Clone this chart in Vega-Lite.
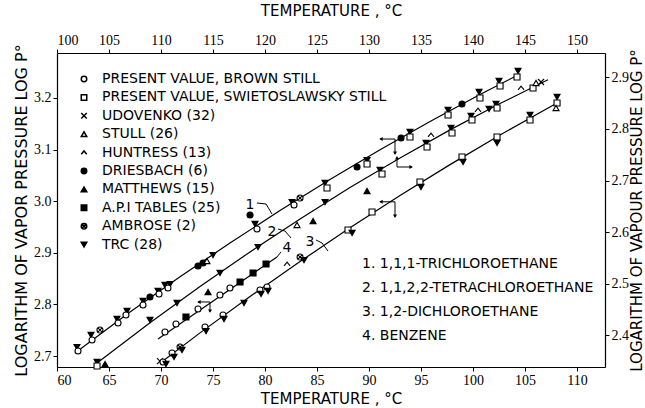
{
  "$schema": "https://vega.github.io/schema/vega-lite/v6.json",
  "width": 548,
  "height": 314,
  "autosize": {"type": "none"},
  "padding": {"left": 57, "top": 53, "right": 40, "bottom": 41},
  "background": "white",
  "config": {
    "view": {"stroke": null},
    "axis": {
      "domainColor": "black", "domainWidth": 1.2, "tickColor": "black", "tickWidth": 1,
      "labelColor": "black", "titleColor": "black", "grid": false,
      "labelFont": "Liberation Sans Narrow", "labelFontSize": 14,
      "titleFont": "DejaVu Sans", "titleFontSize": 15, "titleFontWeight": "normal",
      "tickSize": 4, "labelPadding": 2
    }
  },
  "datasets": {
    "lines": [
      {"compound": "1", "T": 61.73, "logP": 2.706}, {"compound": "1", "T": 67.02, "logP": 2.7853},
      {"compound": "1", "T": 71.83, "logP": 2.8535}, {"compound": "1", "T": 76.63, "logP": 2.919},
      {"compound": "1", "T": 81.44, "logP": 2.9818}, {"compound": "1", "T": 86.25, "logP": 3.042},
      {"compound": "1", "T": 91.06, "logP": 3.0996}, {"compound": "1", "T": 95.87, "logP": 3.1545},
      {"compound": "1", "T": 100.67, "logP": 3.2066}, {"compound": "1", "T": 104.52, "logP": 3.2465},
      {"compound": "3", "T": 69.9, "logP": 2.686}, {"compound": "3", "T": 73.75, "logP": 2.7448},
      {"compound": "3", "T": 78.56, "logP": 2.8153}, {"compound": "3", "T": 83.37, "logP": 2.8831},
      {"compound": "3", "T": 88.17, "logP": 2.9484}, {"compound": "3", "T": 92.98, "logP": 3.011},
      {"compound": "3", "T": 97.79, "logP": 3.0709}, {"compound": "3", "T": 102.6, "logP": 3.1283},
      {"compound": "3", "T": 108.08, "logP": 3.1903},
      {"compound": "4", "T": 69.71, "logP": 2.7329}, {"compound": "4", "T": 81.15, "logP": 2.8919}
    ],
    "line2": [
      {"T": 103.85, "logP": 2.3466}, {"T": 108.94, "logP": 2.4245}, {"T": 113.75, "logP": 2.4947},
      {"T": 118.56, "logP": 2.5617}, {"T": 123.37, "logP": 2.6257}, {"T": 128.17, "logP": 2.6866},
      {"T": 132.98, "logP": 2.7439}, {"T": 137.79, "logP": 2.7982}, {"T": 142.6, "logP": 2.8493},
      {"T": 147.21, "logP": 2.8955}
    ],
    "pts": [
      {"T": 61.92, "logP": 2.7174, "src": "TRC (28)"},
      {"T": 62.02, "logP": 2.7097, "src": "PRESENT VALUE, BROWN STILL"},
      {"T": 63.27, "logP": 2.7407, "src": "TRC (28)"},
      {"T": 63.37, "logP": 2.731, "src": "PRESENT VALUE, BROWN STILL"},
      {"T": 64.13, "logP": 2.7504, "src": "AMBROSE (2)"},
      {"T": 65.77, "logP": 2.7717, "src": "TRC (28)"},
      {"T": 65.87, "logP": 2.764, "src": "PRESENT VALUE, BROWN STILL"},
      {"T": 66.73, "logP": 2.7872, "src": "TRC (28)"},
      {"T": 66.63, "logP": 2.7795, "src": "PRESENT VALUE, BROWN STILL"},
      {"T": 68.27, "logP": 2.8066, "src": "TRC (28)"},
      {"T": 68.27, "logP": 2.7988, "src": "PRESENT VALUE, BROWN STILL"},
      {"T": 68.94, "logP": 2.8143, "src": "DRIESBACH (6)"},
      {"T": 69.71, "logP": 2.826, "src": "TRC (28)"},
      {"T": 69.81, "logP": 2.8202, "src": "PRESENT VALUE, BROWN STILL"},
      {"T": 70.38, "logP": 2.8376, "src": "TRC (28)"},
      {"T": 70.87, "logP": 2.8395, "src": "TRC (28)"},
      {"T": 70.67, "logP": 2.8318, "src": "PRESENT VALUE, BROWN STILL"},
      {"T": 73.56, "logP": 2.8744, "src": "DRIESBACH (6)"},
      {"T": 74.04, "logP": 2.8802, "src": "DRIESBACH (6)"},
      {"T": 74.42, "logP": 2.8841, "src": "STULL (26)"},
      {"T": 75.0, "logP": 2.8957, "src": "TRC (28)"},
      {"T": 78.56, "logP": 2.9733, "src": "DRIESBACH (6)"},
      {"T": 79.04, "logP": 2.9558, "src": "TRC (28)"},
      {"T": 79.23, "logP": 2.9461, "src": "PRESENT VALUE, BROWN STILL"},
      {"T": 82.6, "logP": 2.9984, "src": "TRC (28)"},
      {"T": 82.79, "logP": 2.9926, "src": "PRESENT VALUE, BROWN STILL"},
      {"T": 83.37, "logP": 3.0062, "src": "AMBROSE (2)"},
      {"T": 85.77, "logP": 3.0353, "src": "TRC (28)"},
      {"T": 85.96, "logP": 3.0256, "src": "PRESENT VALUE, SWIETOSLAWSKY STILL"},
      {"T": 88.85, "logP": 3.0663, "src": "DRIESBACH (6)"},
      {"T": 89.81, "logP": 3.0798, "src": "TRC (28)"},
      {"T": 89.81, "logP": 3.0721, "src": "PRESENT VALUE, SWIETOSLAWSKY STILL"},
      {"T": 93.08, "logP": 3.1225, "src": "DRIESBACH (6)"},
      {"T": 93.94, "logP": 3.1341, "src": "TRC (28)"},
      {"T": 93.94, "logP": 3.1244, "src": "PRESENT VALUE, SWIETOSLAWSKY STILL"},
      {"T": 97.6, "logP": 3.1767, "src": "TRC (28)"},
      {"T": 97.6, "logP": 3.1671, "src": "PRESENT VALUE, SWIETOSLAWSKY STILL"},
      {"T": 98.94, "logP": 3.1884, "src": "DRIESBACH (6)"},
      {"T": 100.58, "logP": 3.2116, "src": "TRC (28)"},
      {"T": 100.67, "logP": 3.2, "src": "PRESENT VALUE, SWIETOSLAWSKY STILL"},
      {"T": 102.5, "logP": 3.2329, "src": "TRC (28)"},
      {"T": 102.6, "logP": 3.2233, "src": "PRESENT VALUE, SWIETOSLAWSKY STILL"},
      {"T": 104.33, "logP": 3.2523, "src": "TRC (28)"},
      {"T": 104.23, "logP": 3.2407, "src": "PRESENT VALUE, SWIETOSLAWSKY STILL"},
      {"T": 70.38, "logP": 2.7465, "src": "PRESENT VALUE, BROWN STILL"},
      {"T": 71.44, "logP": 2.762, "src": "PRESENT VALUE, BROWN STILL"},
      {"T": 72.4, "logP": 2.7756, "src": "A.P.I TABLES (25)"},
      {"T": 73.56, "logP": 2.7911, "src": "PRESENT VALUE, BROWN STILL"},
      {"T": 75.67, "logP": 2.8182, "src": "PRESENT VALUE, BROWN STILL"},
      {"T": 76.63, "logP": 2.8318, "src": "PRESENT VALUE, BROWN STILL"},
      {"T": 77.6, "logP": 2.8434, "src": "A.P.I TABLES (25)"},
      {"T": 78.85, "logP": 2.8609, "src": "A.P.I TABLES (25)"},
      {"T": 80.1, "logP": 2.8783, "src": "A.P.I TABLES (25)"},
      {"T": 69.9, "logP": 2.6903, "src": "UDOVENKO (32)"},
      {"T": 70.19, "logP": 2.6884, "src": "PRESENT VALUE, BROWN STILL"},
      {"T": 70.48, "logP": 2.6845, "src": "TRC (28)"},
      {"T": 71.06, "logP": 2.7058, "src": "PRESENT VALUE, BROWN STILL"},
      {"T": 71.25, "logP": 2.6981, "src": "TRC (28)"},
      {"T": 71.83, "logP": 2.7174, "src": "AMBROSE (2)"},
      {"T": 72.02, "logP": 2.7116, "src": "TRC (28)"},
      {"T": 74.23, "logP": 2.7562, "src": "PRESENT VALUE, BROWN STILL"},
      {"T": 74.33, "logP": 2.7484, "src": "TRC (28)"},
      {"T": 75.96, "logP": 2.7795, "src": "PRESENT VALUE, BROWN STILL"},
      {"T": 76.06, "logP": 2.7717, "src": "TRC (28)"},
      {"T": 77.98, "logP": 2.8027, "src": "TRC (28)"},
      {"T": 79.52, "logP": 2.8279, "src": "PRESENT VALUE, BROWN STILL"},
      {"T": 79.62, "logP": 2.8202, "src": "TRC (28)"},
      {"T": 80.19, "logP": 2.8337, "src": "PRESENT VALUE, BROWN STILL"},
      {"T": 80.29, "logP": 2.826, "src": "TRC (28)"},
      {"T": 82.12, "logP": 2.8783, "src": "HUNTRESS (13)"},
      {"T": 83.37, "logP": 2.8919, "src": "AMBROSE (2)"},
      {"T": 83.75, "logP": 2.886, "src": "TRC (28)"},
      {"T": 87.98, "logP": 2.9442, "src": "PRESENT VALUE, SWIETOSLAWSKY STILL"},
      {"T": 88.37, "logP": 2.9384, "src": "TRC (28)"},
      {"T": 90.29, "logP": 2.9791, "src": "PRESENT VALUE, SWIETOSLAWSKY STILL"},
      {"T": 94.9, "logP": 3.0372, "src": "PRESENT VALUE, SWIETOSLAWSKY STILL"},
      {"T": 95.0, "logP": 3.0275, "src": "TRC (28)"},
      {"T": 98.94, "logP": 3.0857, "src": "PRESENT VALUE, SWIETOSLAWSKY STILL"},
      {"T": 99.04, "logP": 3.076, "src": "TRC (28)"},
      {"T": 102.31, "logP": 3.1244, "src": "PRESENT VALUE, SWIETOSLAWSKY STILL"},
      {"T": 102.31, "logP": 3.1128, "src": "TRC (28)"},
      {"T": 105.48, "logP": 3.1671, "src": "TRC (28)"},
      {"T": 105.48, "logP": 3.1574, "src": "PRESENT VALUE, SWIETOSLAWSKY STILL"},
      {"T": 108.08, "logP": 3.2019, "src": "TRC (28)"},
      {"T": 108.08, "logP": 3.1903, "src": "PRESENT VALUE, SWIETOSLAWSKY STILL"},
      {"T": 107.98, "logP": 3.1806, "src": "STULL (26)"}
    ],
    "pts2": [
      {"T": 103.85, "logP": 2.3484, "src": "TRC (28)"},
      {"T": 103.85, "logP": 2.3406, "src": "PRESENT VALUE, SWIETOSLAWSKY STILL"},
      {"T": 104.62, "logP": 2.3445, "src": "MATTHEWS (15)"},
      {"T": 108.94, "logP": 2.4298, "src": "TRC (28)"},
      {"T": 111.54, "logP": 2.4627, "src": "TRC (28)"},
      {"T": 114.52, "logP": 2.484, "src": "MATTHEWS (15)"},
      {"T": 115.67, "logP": 2.5209, "src": "TRC (28)"},
      {"T": 119.33, "logP": 2.5712, "src": "TRC (28)"},
      {"T": 123.08, "logP": 2.6139, "src": "STULL (26)"},
      {"T": 124.62, "logP": 2.6216, "src": "MATTHEWS (15)"},
      {"T": 125.77, "logP": 2.6584, "src": "TRC (28)"},
      {"T": 129.81, "logP": 2.6798, "src": "MATTHEWS (15)"},
      {"T": 131.06, "logP": 2.7205, "src": "TRC (28)"},
      {"T": 131.25, "logP": 2.7127, "src": "PRESENT VALUE, SWIETOSLAWSKY STILL"},
      {"T": 135.48, "logP": 2.7728, "src": "TRC (28)"},
      {"T": 135.58, "logP": 2.765, "src": "PRESENT VALUE, SWIETOSLAWSKY STILL"},
      {"T": 135.96, "logP": 2.7883, "src": "HUNTRESS (13)"},
      {"T": 137.88, "logP": 2.8019, "src": "TRC (28)"},
      {"T": 137.98, "logP": 2.7922, "src": "PRESENT VALUE, SWIETOSLAWSKY STILL"},
      {"T": 139.81, "logP": 2.8251, "src": "TRC (28)"},
      {"T": 139.9, "logP": 2.8174, "src": "PRESENT VALUE, SWIETOSLAWSKY STILL"},
      {"T": 140.48, "logP": 2.8367, "src": "HUNTRESS (13)"},
      {"T": 141.54, "logP": 2.8387, "src": "TRC (28)"},
      {"T": 142.21, "logP": 2.8484, "src": "TRC (28)"},
      {"T": 142.31, "logP": 2.8406, "src": "PRESENT VALUE, SWIETOSLAWSKY STILL"},
      {"T": 144.62, "logP": 2.8794, "src": "HUNTRESS (13)"},
      {"T": 145.77, "logP": 2.8794, "src": "PRESENT VALUE, SWIETOSLAWSKY STILL"},
      {"T": 146.06, "logP": 2.8891, "src": "STULL (26)"},
      {"T": 146.54, "logP": 2.891, "src": "UDOVENKO (32)"}
    ],
    "names": [
      {"T": 89.33, "logP": 2.8783, "text": "1.  1,1,1-TRICHLOROETHANE"},
      {"T": 89.33, "logP": 2.8318, "text": "2.  1,1,2,2-TETRACHLOROETHANE"},
      {"T": 89.33, "logP": 2.7853, "text": "3.  1,2-DICHLOROETHANE"},
      {"T": 89.33, "logP": 2.7388, "text": "4.  BENZENE"}
    ],
    "nums": [
      {"T": 78.56, "logP": 2.9926, "text": "1"},
      {"T": 80.67, "logP": 2.9403, "text": "2"},
      {"T": 82.12, "logP": 2.9093, "text": "4"},
      {"T": 84.33, "logP": 2.9209, "text": "3"}
    ],
    "leaders": [
      {"id": "l1", "ord": 0, "T": 79.23, "logP": 2.9965}, {"id": "l1", "ord": 1, "T": 80.1, "logP": 2.9946}, {"id": "l1", "ord": 2, "T": 80.67, "logP": 2.9752},
      {"id": "l2", "ord": 0, "T": 81.25, "logP": 2.9461}, {"id": "l2", "ord": 1, "T": 81.92, "logP": 2.9422}, {"id": "l2", "ord": 2, "T": 82.5, "logP": 2.9287},
      {"id": "l3", "ord": 0, "T": 84.9, "logP": 2.9248}, {"id": "l3", "ord": 1, "T": 85.48, "logP": 2.919}, {"id": "l3", "ord": 2, "T": 86.06, "logP": 2.9035},
      {"id": "l4", "ord": 0, "T": 81.54, "logP": 2.9016}, {"id": "l4", "ord": 1, "T": 81.15, "logP": 2.8919}
    ],
    "arrows": [
      {"id": "a1h", "ord": 0, "T": 91.06, "logP": 3.1205}, {"id": "a1h", "ord": 1, "T": 92.5, "logP": 3.1205},
      {"id": "a1v", "ord": 0, "T": 92.5, "logP": 3.1205}, {"id": "a1v", "ord": 1, "T": 92.5, "logP": 3.0915},
      {"id": "a2v", "ord": 0, "T": 92.69, "logP": 3.0857}, {"id": "a2v", "ord": 1, "T": 92.69, "logP": 3.0663},
      {"id": "a2h", "ord": 0, "T": 92.69, "logP": 3.0663}, {"id": "a2h", "ord": 1, "T": 94.13, "logP": 3.0663},
      {"id": "a3h", "ord": 0, "T": 91.06, "logP": 2.9988}, {"id": "a3h", "ord": 1, "T": 92.5, "logP": 2.9988},
      {"id": "a3v", "ord": 0, "T": 92.5, "logP": 2.9988}, {"id": "a3v", "ord": 1, "T": 92.5, "logP": 2.9695},
      {"id": "a4h", "ord": 0, "T": 73.56, "logP": 2.8047}, {"id": "a4h", "ord": 1, "T": 74.71, "logP": 2.8047},
      {"id": "a4v", "ord": 0, "T": 74.71, "logP": 2.8047}, {"id": "a4v", "ord": 1, "T": 74.71, "logP": 2.7853}
    ],
    "heads": [
      {"dir": "left", "T": 91.15, "logP": 3.1205},
      {"dir": "down", "T": 92.5, "logP": 3.093},
      {"dir": "up", "T": 92.69, "logP": 3.084},
      {"dir": "right", "T": 94.05, "logP": 3.0663},
      {"dir": "left", "T": 91.15, "logP": 2.9988},
      {"dir": "down", "T": 92.5, "logP": 2.971},
      {"dir": "left", "T": 73.65, "logP": 2.8047},
      {"dir": "down", "T": 74.71, "logP": 2.787}
    ]
  },
  "layer": [
    {
      "encoding": {
        "x": {"field": "T", "type": "quantitative",
          "scale": {"domain": [60, 112.69], "nice": false, "zero": false},
          "axis": {"orient": "bottom", "values": [60, 65, 70, 75, 80, 85, 90, 95, 100, 105, 110],
            "title": "TEMPERATURE , °C", "titlePadding": 4}},
        "y": {"field": "logP", "type": "quantitative",
          "scale": {"domain": [2.6787, 3.2872], "nice": false, "zero": false},
          "axis": {"orient": "left", "values": [2.7, 2.8, 2.9, 3.0, 3.1, 3.2], "format": ".1f",
            "title": "LOGARITHM OF VAPOR PRESSURE LOG P°", "titleFontSize": 16, "titlePadding": 4}}
      },
      "layer": [
        {"data": {"name": "lines"}, "mark": {"type": "line", "color": "black", "strokeWidth": 1.2},
          "encoding": {"detail": {"field": "compound", "type": "nominal"}}},
        {"data": {"name": "leaders"}, "mark": {"type": "line", "color": "black", "strokeWidth": 1},
          "encoding": {"detail": {"field": "id", "type": "nominal"}, "order": {"field": "ord", "type": "quantitative"}}},
        {"data": {"name": "arrows"}, "mark": {"type": "line", "color": "black", "strokeWidth": 1},
          "encoding": {"detail": {"field": "id", "type": "nominal"}, "order": {"field": "ord", "type": "quantitative"}}},
        {"data": {"name": "heads"}, "transform": [{"filter": "datum.dir == 'left'"}],
          "mark": {"type": "point", "shape": "triangle-left", "filled": true, "color": "black", "opacity": 1, "size": 16}},
        {"data": {"name": "heads"}, "transform": [{"filter": "datum.dir == 'right'"}],
          "mark": {"type": "point", "shape": "triangle-right", "filled": true, "color": "black", "opacity": 1, "size": 16}},
        {"data": {"name": "heads"}, "transform": [{"filter": "datum.dir == 'up'"}],
          "mark": {"type": "point", "shape": "triangle-up", "filled": true, "color": "black", "opacity": 1, "size": 16}},
        {"data": {"name": "heads"}, "transform": [{"filter": "datum.dir == 'down'"}],
          "mark": {"type": "point", "shape": "triangle-down", "filled": true, "color": "black", "opacity": 1, "size": 16}},
        {"data": {"name": "pts"},
          "mark": {"type": "point", "stroke": "black", "strokeWidth": 1.1, "size": 36, "opacity": 1},
          "encoding": {
            "shape": {"field": "src", "type": "nominal",
              "scale": {"domain": ["PRESENT VALUE, BROWN STILL", "PRESENT VALUE, SWIETOSLAWSKY STILL", "UDOVENKO (32)", "STULL (26)", "HUNTRESS (13)", "DRIESBACH (6)", "MATTHEWS (15)", "A.P.I TABLES (25)", "AMBROSE (2)", "TRC (28)"],
                "range": ["circle", "square", "M-1,-1L1,1M-1,1L1,-1", "triangle-up", "M-1,0.6L0,-0.6L1,0.6", "circle", "triangle-up", "square", "M-1,0A1,1,0,1,1,1,0A1,1,0,1,1,-1,0ZM-0.7,-0.7L0.7,0.7M-0.7,0.7L0.7,-0.7", "triangle-down"]},
              "legend": {"orient": "none", "legendX": 20, "legendY": 19, "title": null, "padding": 0,
                "labelFont": "DejaVu Sans", "labelFontSize": 14, "labelColor": "black", "labelLimit": 400,
                "labelOffset": 11, "rowPadding": 4.4, "symbolSize": 30,
                "encode": {"symbols": {"update": {"stroke": {"value": "black"}, "strokeWidth": {"value": 1.1}}}}}},
            "fill": {"field": "src", "type": "nominal",
              "scale": {"domain": ["PRESENT VALUE, BROWN STILL", "PRESENT VALUE, SWIETOSLAWSKY STILL", "UDOVENKO (32)", "STULL (26)", "HUNTRESS (13)", "DRIESBACH (6)", "MATTHEWS (15)", "A.P.I TABLES (25)", "AMBROSE (2)", "TRC (28)"],
                "range": ["white", "white", "transparent", "white", "transparent", "black", "black", "black", "white", "black"]},
              "legend": {"orient": "none", "legendX": 20, "legendY": 19, "title": null, "padding": 0,
                "labelFont": "DejaVu Sans", "labelFontSize": 14, "labelColor": "black", "labelLimit": 400,
                "labelOffset": 11, "rowPadding": 4.4, "symbolSize": 30,
                "encode": {"symbols": {"update": {"stroke": {"value": "black"}, "strokeWidth": {"value": 1.1}}}}}}
          }},
        {"data": {"name": "names"},
          "mark": {"type": "text", "align": "left", "baseline": "middle", "font": "DejaVu Sans", "fontSize": 14, "color": "black"},
          "encoding": {"text": {"field": "text", "type": "nominal"}}},
        {"data": {"name": "nums"},
          "mark": {"type": "text", "align": "center", "baseline": "middle", "font": "DejaVu Sans", "fontSize": 14, "color": "black"},
          "encoding": {"text": {"field": "text", "type": "nominal"}}}
      ]
    },
    {
      "encoding": {
        "x": {"field": "T", "type": "quantitative",
          "scale": {"domain": [100, 152.69], "nice": false, "zero": false},
          "axis": {"orient": "top", "values": [100, 105, 110, 115, 120, 125, 130, 135, 140, 145, 150],
            "title": "TEMPERATURE , °C", "titlePadding": 15}},
        "y": {"field": "logP", "type": "quantitative",
          "scale": {"domain": [2.3387, 2.9472], "nice": false, "zero": false},
          "axis": {"orient": "right", "values": [2.4, 2.5, 2.6, 2.7, 2.8, 2.9], "format": ".1f",
            "title": "LOGARITHM OF VAPOUR PRESSURE LOG P°", "titleFontSize": 15, "titleAngle": 270, "titleBaseline": "top", "titlePadding": 1}}
      },
      "layer": [
        {"data": {"name": "line2"}, "mark": {"type": "line", "color": "black", "strokeWidth": 1.2}},
        {"data": {"name": "pts2"},
          "mark": {"type": "point", "stroke": "black", "strokeWidth": 1.1, "size": 36, "opacity": 1},
          "encoding": {
            "shape": {"field": "src", "type": "nominal",
              "scale": {"domain": ["PRESENT VALUE, BROWN STILL", "PRESENT VALUE, SWIETOSLAWSKY STILL", "UDOVENKO (32)", "STULL (26)", "HUNTRESS (13)", "DRIESBACH (6)", "MATTHEWS (15)", "A.P.I TABLES (25)", "AMBROSE (2)", "TRC (28)"],
                "range": ["circle", "square", "M-1,-1L1,1M-1,1L1,-1", "triangle-up", "M-1,0.6L0,-0.6L1,0.6", "circle", "triangle-up", "square", "M-1,0A1,1,0,1,1,1,0A1,1,0,1,1,-1,0ZM-0.7,-0.7L0.7,0.7M-0.7,0.7L0.7,-0.7", "triangle-down"]},
              "legend": {"orient": "none", "legendX": 20, "legendY": 19, "title": null, "padding": 0,
                "labelFont": "DejaVu Sans", "labelFontSize": 14, "labelColor": "black", "labelLimit": 400,
                "labelOffset": 11, "rowPadding": 4.4, "symbolSize": 30,
                "encode": {"symbols": {"update": {"stroke": {"value": "black"}, "strokeWidth": {"value": 1.1}}}}}},
            "fill": {"field": "src", "type": "nominal",
              "scale": {"domain": ["PRESENT VALUE, BROWN STILL", "PRESENT VALUE, SWIETOSLAWSKY STILL", "UDOVENKO (32)", "STULL (26)", "HUNTRESS (13)", "DRIESBACH (6)", "MATTHEWS (15)", "A.P.I TABLES (25)", "AMBROSE (2)", "TRC (28)"],
                "range": ["white", "white", "transparent", "white", "transparent", "black", "black", "black", "white", "black"]},
              "legend": {"orient": "none", "legendX": 20, "legendY": 19, "title": null, "padding": 0,
                "labelFont": "DejaVu Sans", "labelFontSize": 14, "labelColor": "black", "labelLimit": 400,
                "labelOffset": 11, "rowPadding": 4.4, "symbolSize": 30,
                "encode": {"symbols": {"update": {"stroke": {"value": "black"}, "strokeWidth": {"value": 1.1}}}}}}
          }}
      ]
    }
  ],
  "resolve": {"scale": {"x": "independent", "y": "independent"}}
}
